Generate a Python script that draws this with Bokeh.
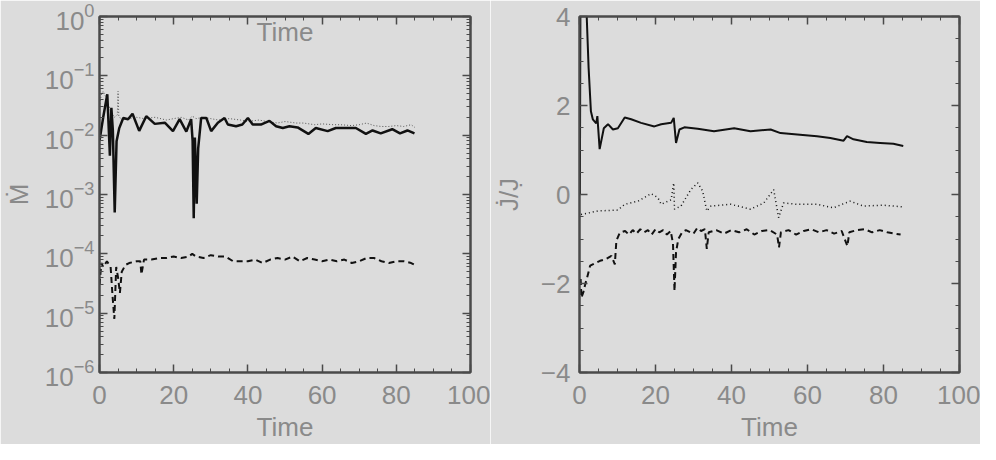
from bokeh.plotting import figure
from bokeh.models import Range1d, FixedTicker, LinearAxis, Label, CustomJSTickFormatter
from bokeh.layouts import row
from bokeh.embed import file_html
from bokeh.resources import INLINE

# ---------------- data ----------------
# Left panel: accretion rate (log scale)
mdot_solid_t = [0, 1.0, 2.1, 2.8, 3.2, 3.6, 4.1, 4.6, 5.3, 6.4, 7.7, 8.9, 10.7, 12.6, 14.9, 17.6, 19.8,
                21.6, 23.4, 24.7, 25.1, 25.4, 25.7, 25.95, 26.2, 26.6, 27.4, 28.8, 30.1, 31.9, 33.7, 34.6,
                36.8, 38.5, 40.0, 41.3, 43.5, 45.8, 47.6, 49.4, 51.2, 53.4, 56.3, 58.3, 61.5, 63.7, 65.1,
                67.7, 69.1, 71.8, 73.6, 75.8, 78.9, 81.0, 83.0, 84.9]
mdot_solid = [0.008, 0.02, 0.049, 0.0045, 0.029, 0.012, 0.0005, 0.0079, 0.013, 0.0195, 0.0186, 0.0229,
              0.0118, 0.0209, 0.0155, 0.0162, 0.0117, 0.0186, 0.0115, 0.0186, 0.008, 0.0004, 0.0091, 0.003,
              0.0007, 0.006, 0.0195, 0.0195, 0.0117, 0.0162, 0.0195, 0.0151, 0.0141, 0.0151, 0.0195, 0.0151,
              0.0151, 0.0174, 0.0141, 0.0132, 0.0141, 0.0135, 0.0105, 0.0132, 0.0117, 0.0132, 0.0132, 0.0132,
              0.0132, 0.0105, 0.012, 0.0107, 0.0126, 0.0107, 0.012, 0.0107]

mdot_dot_t = [0, 0.5, 1, 2, 3, 4, 4.8, 5.0, 5.2, 6, 8, 10, 12, 15, 18, 20, 22, 24, 25, 26, 28, 30, 32, 35,
              38, 40, 43, 45, 48, 50, 53, 55, 58, 60, 63, 65, 68, 70, 72, 74, 76, 78, 80, 82, 84, 85]
mdot_dot = [0.03, 0.05, 0.055, 0.04, 0.025, 0.02, 0.022, 0.055, 0.021, 0.018, 0.019, 0.02, 0.019, 0.02,
            0.018, 0.019, 0.02, 0.018, 0.021, 0.019, 0.02, 0.019, 0.018, 0.019, 0.018, 0.017, 0.018, 0.017,
            0.016, 0.017, 0.016, 0.016, 0.015, 0.0155, 0.015, 0.015, 0.0145, 0.015, 0.016, 0.0145, 0.014,
            0.014, 0.0145, 0.014, 0.015, 0.0135]

mdot_dash_t = [0, 0.5, 1, 2, 3, 3.5, 4, 4.5, 5, 5.5, 6, 7, 8, 10, 11, 11.3, 12, 14, 16, 18, 20, 22, 24, 25,
               26, 28, 30, 32, 34, 36, 38, 40, 42, 44, 46, 48, 50, 52, 54, 56, 58, 60, 62, 64, 66, 68, 70,
               72, 74, 76, 78, 80, 82, 84, 85]
mdot_dash = [3e-5, 7e-5, 6e-5, 7.5e-5, 6e-5, 2e-5, 0.8e-5, 6e-5, 4e-5, 2.2e-5, 5e-5, 6.5e-5, 7e-5, 7.5e-5,
             7.5e-5, 4.5e-5, 8e-5, 8e-5, 8.5e-5, 8.5e-5, 9e-5, 8.5e-5, 9e-5, 10e-5, 9e-5, 8.5e-5, 9.5e-5,
             9e-5, 9e-5, 7.5e-5, 7.5e-5, 7.5e-5, 8e-5, 7e-5, 8e-5, 8.5e-5, 8e-5, 9e-5, 7.5e-5, 8.5e-5, 8e-5,
             7.5e-5, 8e-5, 7.5e-5, 8e-5, 7e-5, 7.5e-5, 8.5e-5, 8.5e-5, 7.5e-5, 7e-5, 7.5e-5, 7.5e-5, 7e-5,
             6.5e-5]

# Right panel: Jdot / J
jdot_solid_t = [0.1, 0.3, 0.6, 1.9, 2.4, 3.0, 3.5, 4.4, 4.7, 5.3, 6.4, 7.5, 8.8, 10.1, 11.9, 13.6, 16.2,
                19.7, 21.5, 24.1, 24.8, 25.4, 26.3, 27.6, 31.1, 35.4, 40.7, 45.0, 50.3, 52.9, 57.3, 62.5,
                66.0, 69.5, 70.4, 72.1, 75.6, 79.1, 82.6, 85.2]
jdot_solid = [0.0, 6.0, 6.0, 4.0, 2.84, 1.87, 1.69, 1.6, 1.76, 1.02, 1.49, 1.58, 1.46, 1.49, 1.73, 1.69,
              1.61, 1.53, 1.58, 1.61, 1.72, 1.16, 1.46, 1.51, 1.48, 1.42, 1.49, 1.42, 1.46, 1.38, 1.35,
              1.31, 1.27, 1.21, 1.31, 1.24, 1.18, 1.16, 1.14, 1.09]

jdot_dot_t = [0.4, 4.8, 10.1, 11.9, 15.4, 18.8, 20.6, 21.5, 24.1, 24.8, 25.0, 26.7, 29.3, 31.1, 32.4, 33.5,
              34.6, 39.8, 45.0, 48.5, 51.1, 52.4, 53.7, 57.2, 62.5, 66.8, 71.2, 74.7, 80.0, 85.2]
jdot_dot = [-0.45, -0.37, -0.35, -0.22, -0.15, 0.02, -0.07, -0.22, -0.12, 0.26, -0.33, -0.26, 0.11, 0.26,
            0.08, -0.37, -0.26, -0.22, -0.33, -0.19, 0.11, -0.52, -0.19, -0.22, -0.22, -0.3, -0.15, -0.26,
            -0.24, -0.28]

jdot_dash_t = [0.3, 0.5, 1.0, 1.5, 2.0, 2.8, 4, 5.4, 7, 8.4, 9.3, 9.7, 10.6, 12, 13, 14, 15, 16, 17, 18,
               19, 20, 21, 22, 23, 24, 24.6, 25, 25.4, 26, 27, 28, 30, 31, 32, 33, 33.5, 34, 36, 38, 40, 42,
               44, 46, 48, 50, 52, 52.5, 53, 55, 57, 59, 61, 63, 65, 67, 69, 70.5, 71, 73, 75, 77, 79, 81,
               83, 84.5]
jdot_dash = [-1.9, -2.32, -2.2, -2.02, -1.87, -1.6, -1.55, -1.49, -1.45, -1.38, -1.57, -1.04, -0.86, -0.82,
             -0.9, -0.8, -0.88, -0.78, -0.85, -0.8, -0.9, -0.78, -0.85, -0.8, -0.9, -0.82, -1.1, -2.17, -1.3,
             -1.0, -0.85, -0.8, -0.88, -0.75, -0.82, -0.78, -1.22, -0.85, -0.8, -0.88, -0.8, -0.85, -0.78,
             -0.9, -0.82, -0.8, -0.9, -1.19, -0.85, -0.8, -0.9, -0.82, -0.78, -0.85, -0.8, -0.88, -0.82,
             -1.16, -0.85, -0.8, -0.78, -0.85, -0.8, -0.85, -0.88, -0.9]

x_major = [0, 20, 40, 60, 80, 100]
x_minor = [5, 10, 15, 25, 30, 35, 45, 50, 55, 65, 70, 75, 85, 90, 95]
logy_major = [1e-6, 1e-5, 1e-4, 1e-3, 1e-2, 1e-1, 1e0]
logy_minor = [m * d for d in [1e-6, 1e-5, 1e-4, 1e-3, 1e-2, 1e-1] for m in range(2, 10)]
liny_major = [-4, -2, 0, 2, 4]
liny_minor = [-3.5, -3, -2.5, -1.5, -1, -0.5, 0.5, 1, 1.5, 2.5, 3, 3.5]
liny_labels = {-4: "\u22124", -2: "\u22122", 0: "0", 2: "2", 4: "4"}

# ---------------- style ----------------
BG = "#dcdcdc"
FONT = "'Liberation Sans', sans-serif"
TXT = "#8a8a8a"
AX = "#4a4a4a"
LINE = "#111111"
FS = "26px"


def ticks_style(ax, ticker):
    ax.ticker = ticker
    ax.axis_line_color = AX
    ax.axis_line_width = 2
    ax.major_tick_line_color = AX
    ax.minor_tick_line_color = AX
    ax.major_tick_line_width = 1.5
    ax.minor_tick_line_width = 1
    ax.major_tick_in = 8
    ax.major_tick_out = 0
    ax.minor_tick_in = 4
    ax.minor_tick_out = 0


def style_axis(ax, ticker, standoff, label, label_standoff):
    ticks_style(ax, ticker)
    ax.major_label_text_font = FONT
    ax.major_label_text_color = TXT
    ax.major_label_text_font_size = FS
    ax.major_label_standoff = standoff
    ax.axis_label = label
    ax.axis_label_standoff = label_standoff
    ax.axis_label_text_font = FONT
    ax.axis_label_text_color = TXT
    ax.axis_label_text_font_size = FS
    ax.axis_label_text_font_style = "normal"


def mirror_axis(p, ticker, side):
    ax = LinearAxis()
    ticks_style(ax, ticker)
    ax.formatter = CustomJSTickFormatter(code="return ''")
    ax.major_label_text_font_size = "1px"
    ax.major_label_standoff = 0
    p.add_layout(ax, side)


def make_fig(log_y, y_range, border_left, border_right):
    p = figure(width=490, height=444, output_backend="svg", toolbar_location=None,
               x_range=Range1d(0, 100), y_range=y_range,
               y_axis_type="log" if log_y else "linear",
               background_fill_color=BG, border_fill_color=BG,
               min_border_left=border_left, min_border_right=border_right,
               min_border_top=16, min_border_bottom=71)
    p.grid.visible = False
    p.outline_line_color = AX
    p.outline_line_width = 2
    return p


# ---------------- left panel ----------------
left = make_fig(True, Range1d(1e-6, 1e0), 98, 20)
style_axis(left.xaxis[0], FixedTicker(ticks=x_major, minor_ticks=x_minor), 13, "Time", 5)
style_axis(left.yaxis[0], FixedTicker(ticks=logy_major, minor_ticks=logy_minor), 5, "M\u0307", 8)
mirror_axis(left, FixedTicker(ticks=x_major, minor_ticks=x_minor), "above")
mirror_axis(left, FixedTicker(ticks=logy_major, minor_ticks=logy_minor), "right")

left.line(mdot_dot_t, mdot_dot, line_color="#555555", line_width=1, line_dash="1 2")
left.line(mdot_dash_t, mdot_dash, line_color=LINE, line_width=2, line_dash="6 4")
left.line(mdot_solid_t, mdot_solid, line_color=LINE, line_width=2.5)
left.add_layout(Label(x=50, y=0.55, text="Time", text_align="center", text_baseline="middle",
                      text_font=FONT, text_font_size=FS, text_color=TXT))

# ---------------- right panel ----------------
right = make_fig(False, Range1d(-4, 4), 87, 21)
style_axis(right.xaxis[0], FixedTicker(ticks=x_major, minor_ticks=x_minor), 13, "Time", 5)
style_axis(right.yaxis[0], FixedTicker(ticks=liny_major, minor_ticks=liny_minor), 9,
           "J\u0307/J\u0323", 14)
right.yaxis[0].major_label_overrides = liny_labels
mirror_axis(right, FixedTicker(ticks=x_major, minor_ticks=x_minor), "above")
mirror_axis(right, FixedTicker(ticks=liny_major, minor_ticks=liny_minor), "right")

right.line(jdot_dot_t, jdot_dot, line_color=LINE, line_width=1.5, line_dash="1 3")
right.line(jdot_dash_t, jdot_dash, line_color=LINE, line_width=2, line_dash="6 4")
right.line(jdot_solid_t, jdot_solid, line_color=LINE, line_width=2)

layout = row(left, right, spacing=0)
open("out.html", "w").write(file_html(layout, INLINE))
